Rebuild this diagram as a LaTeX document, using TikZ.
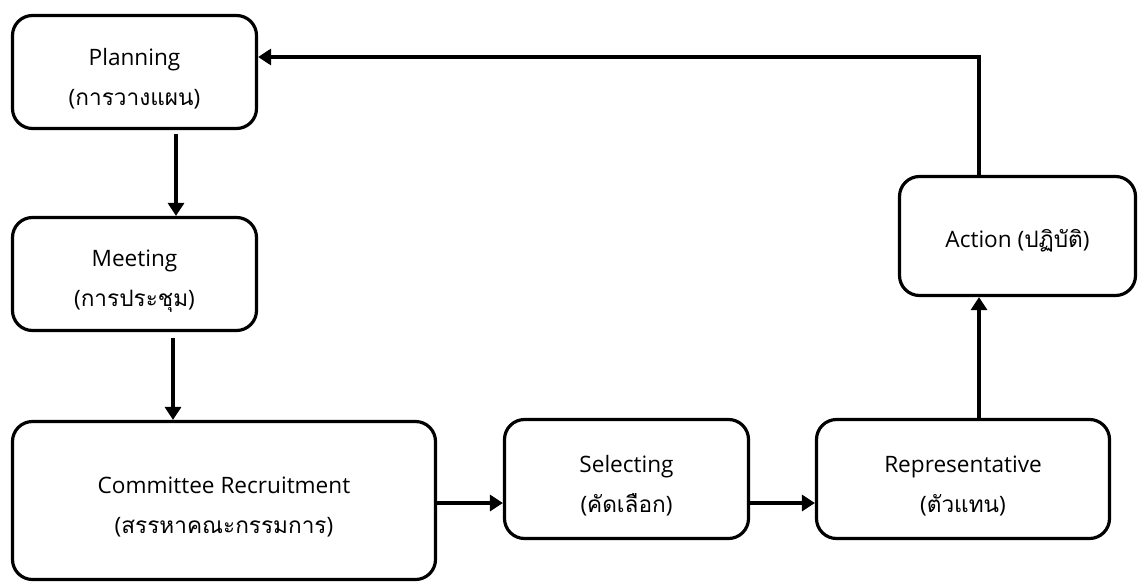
\documentclass[tikz,border=0pt]{standalone}
\usepackage{fontspec}
\setmainfont{Open Sans}
\newfontfamily\thaifont[Script=Thai]{Loma}
\usetikzlibrary{
  arrows.meta,
}
\tikzset{
  >={Triangle[length=6.5pt,width=8pt]},
  stage/.style={draw, line width=1.6pt, rounded corners=10pt, align=center,
    inner sep=0pt, font=\fontsize{11.3}{20}\selectfont},
  flow/.style={->, line width=1.6pt},
}
% English name over Thai name, set a little low in the box
\newcommand{\stagelabel}[2]{\rule{0pt}{15pt}#1\\({\thaifont #2})}
\begin{document}
\begin{tikzpicture}[x=0.5pt,y=-0.5pt]
      \useasboundingbox (0,0) rectangle (1138,583);
      \node[stage, minimum width=122pt, minimum height=56.5pt] (planning) at (134.5,72)
        {\stagelabel{Planning}{การวางแผน}};
      \node[stage, minimum width=122pt, minimum height=56.5pt] (meeting) at (134.5,274)
        {\stagelabel{Meeting}{การประชุม}};
      \node[stage, minimum width=211.5pt, minimum height=79pt] (recruit) at (224,500.5)
        {\stagelabel{Committee Recruitment}{สรรหาคณะกรรมการ}};
      \node[stage, minimum width=122pt, minimum height=59.5pt] (selecting) at (626.5,479)
        {\stagelabel{Selecting}{คัดเลือก}};
      \node[stage, minimum width=146.5pt, minimum height=59.5pt] (rep) at (963,479)
        {\stagelabel{Representative}{ตัวแทน}};
      \node[stage, minimum width=118pt, minimum height=59.5pt] (action) at (1017.5,236)
        {\rule{0pt}{14pt}Action ({\thaifont ปฏิบัติ})};
      \draw[flow, shorten <=2pt] ([xshift=20.75pt]planning.south) -- ([xshift=20.75pt]meeting.north);
      \draw[flow, shorten <=3pt] ([xshift=19.25pt]meeting.south) -- ([xshift=-25.5pt]recruit.north);
      \draw[flow] ([yshift=-1.25pt]recruit.east) -- ([yshift=-12pt]selecting.west);
      \draw[flow] ([yshift=-12pt]selecting.east) -- ([yshift=-12pt]rep.west);
      \draw[flow] ([xshift=8pt]rep.north) -- ([xshift=-19.25pt]action.south);
      \draw[flow] ([xshift=-19.25pt]action.north) |- ([yshift=7.5pt]planning.east);
    \end{tikzpicture}
\end{document}
